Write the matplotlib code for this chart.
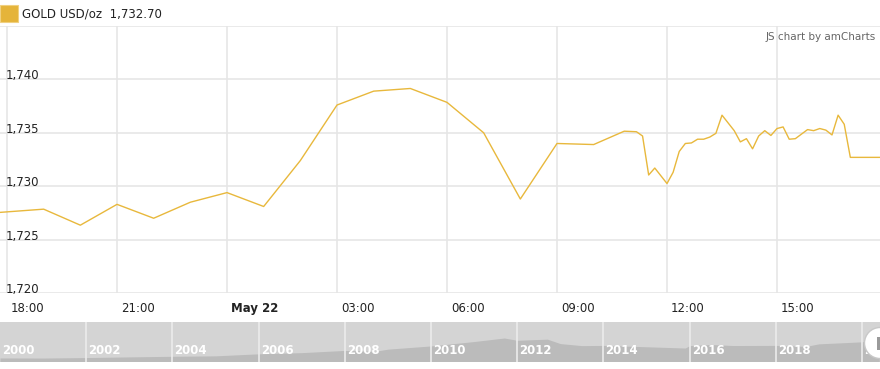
import numpy as np
import pandas as pd
import matplotlib
matplotlib.use('Agg')
import matplotlib.pyplot as plt
from matplotlib.patches import Circle, Rectangle
from matplotlib.transforms import IdentityTransform, ScaledTranslation

# intraday gold price (USD/oz)
times = ["2020-05-21 17:49", "2020-05-21 19:00", "2020-05-21 20:00", "2020-05-21 21:00",
         "2020-05-21 22:00", "2020-05-21 23:00", "2020-05-22 00:00", "2020-05-22 01:00",
         "2020-05-22 02:00", "2020-05-22 03:00", "2020-05-22 04:00", "2020-05-22 05:00",
         "2020-05-22 06:00", "2020-05-22 07:00", "2020-05-22 08:00", "2020-05-22 09:00",
         "2020-05-22 10:00", "2020-05-22 10:50", "2020-05-22 11:10", "2020-05-22 11:20",
         "2020-05-22 11:30", "2020-05-22 11:40", "2020-05-22 12:00", "2020-05-22 12:10",
         "2020-05-22 12:20", "2020-05-22 12:30", "2020-05-22 12:40", "2020-05-22 12:50",
         "2020-05-22 13:00", "2020-05-22 13:10", "2020-05-22 13:20", "2020-05-22 13:30",
         "2020-05-22 13:50", "2020-05-22 14:00", "2020-05-22 14:10", "2020-05-22 14:20",
         "2020-05-22 14:30", "2020-05-22 14:40", "2020-05-22 14:50", "2020-05-22 15:00",
         "2020-05-22 15:10", "2020-05-22 15:20", "2020-05-22 15:30", "2020-05-22 15:50",
         "2020-05-22 16:00", "2020-05-22 16:10", "2020-05-22 16:20", "2020-05-22 16:30",
         "2020-05-22 16:40", "2020-05-22 16:50", "2020-05-22 17:00", "2020-05-22 17:50"]
prices = [1727.55, 1727.85, 1726.35, 1728.30, 1727.00, 1728.50, 1729.40, 1728.10,
          1732.40, 1737.60, 1738.90, 1739.15, 1737.85, 1735.00, 1728.80, 1734.00,
          1733.90, 1735.15, 1735.10, 1734.70, 1731.05, 1731.70, 1730.25, 1731.30,
          1733.25, 1734.00, 1734.05, 1734.40, 1734.40, 1734.60, 1734.95, 1736.65,
          1735.20, 1734.15, 1734.45, 1733.50, 1734.70, 1735.20, 1734.75, 1735.40,
          1735.55, 1734.40, 1734.45, 1735.30, 1735.20, 1735.40, 1735.25, 1734.80,
          1736.65, 1735.80, 1732.70, 1732.70]

y_ticks = [1720, 1725, 1730, 1735, 1740]
y_labels = ["1,720", "1,725", "1,730", "1,735", "1,740"]
x_ticks = ["2020-05-21 18:00", "2020-05-21 21:00", "2020-05-22 00:00", "2020-05-22 03:00",
           "2020-05-22 06:00", "2020-05-22 09:00", "2020-05-22 12:00", "2020-05-22 15:00"]
x_labels = ["18:00", "21:00", "May 22", "03:00", "06:00", "09:00", "12:00", "15:00"]

# long-term history for the navigator strip
nav_years = [2000, 2001, 2002, 2003, 2004, 2005, 2006, 2007, 2008, 2008.7, 2009,
             2010, 2011, 2011.7, 2012, 2012.7, 2013, 2013.5, 2014, 2015, 2015.9,
             2016, 2016.5, 2017, 2018, 2018.7, 2019, 2019.7, 2020, 2020.4]
nav_prices = [280, 272, 310, 363, 409, 445, 604, 697, 872, 800, 972,
              1225, 1572, 1850, 1670, 1760, 1410, 1250, 1266, 1160, 1060,
              1250, 1340, 1257, 1268, 1190, 1390, 1500, 1550, 1720]
nav_ticks = [2000, 2002, 2004, 2006, 2008, 2010, 2012, 2014, 2016, 2018, 2020]

gold = '#e8b83c'
grid = '#e6e6e6'

fig = plt.figure(figsize=(8.8, 3.69), dpi=100)
W, H = 880, 369
plt.rcParams['font.family'] = 'DejaVu Sans'

# main plot: x 0..880, y 26..293 px
ax = fig.add_axes([0, 1 - 293 / H, 1, (293 - 26) / H])
t = pd.to_datetime(times)
ax.plot(t, prices, color=gold, lw=1.0)
left = pd.Timestamp("2020-05-21 18:00") - pd.Timedelta(hours=7 / 36.667)
ax.set_xlim(left, left + pd.Timedelta(hours=24))
ax.set_ylim(1720, 1745)

ax.set_yticks(y_ticks)
ax.set_xticks(pd.to_datetime(x_ticks))
ax.grid(True, color=grid, lw=1.2)
ax.tick_params(length=0, labelleft=False)
for s in ax.spines.values():
    s.set_visible(False)
ax.axhline(1745, color=grid, lw=1.2)

ax.set_xticklabels(x_labels, fontsize=8.5, color='#222')
offset = ScaledTranslation(4 / 100, -4 / 100, fig.dpi_scale_trans)
for lbl in ax.get_xticklabels():
    lbl.set_horizontalalignment('left')
    lbl.set_transform(lbl.get_transform() + offset)
    if lbl.get_text() == "May 22":
        lbl.set_fontweight('bold')

ylab_off = ScaledTranslation(0, -3 / 100, fig.dpi_scale_trans)
for v, s in zip(y_ticks, y_labels):
    ax.text(6 / W, v, s, transform=ax.get_yaxis_transform() + ylab_off,
            ha='left', va='bottom', fontsize=8.5, color='#222')

# header legend
fig.add_artist(Rectangle((0, H - 22), 18, 17, transform=IdentityTransform(),
                         facecolor='#e5b43a', edgecolor='#f0d080', lw=0.8))
fig.text(22 / W, 1 - 14 / H, "GOLD USD/oz  1,732.70", fontsize=8.5, va='center',
         ha='left', color='#222')
fig.text(876 / W, 1 - 37 / H, "JS chart by amCharts", fontsize=7.5, va='center',
         ha='right', color='#666')

# navigator strip
nav = fig.add_axes([0, 1 - 361.5 / H, 1, 40 / H])
nav.set_facecolor('#d4d4d4')
nav.fill_between(nav_years, nav_prices, 0, color='#bbbbbb', lw=0)
nav.set_xlim(2000, 2000 + 880 / 43.1)
nav.set_ylim(0, 3150)
nav.set_xticks([])
nav.set_yticks([])
for s in nav.spines.values():
    s.set_visible(False)
for yr in nav_ticks:
    if yr > 2000:
        nav.axvline(yr, color='#ececec', lw=1.2)
    nav.text(yr + 0.05, 0.12, str(yr), transform=nav.get_xaxis_transform(),
             color='white', fontsize=8.5, fontweight='bold', ha='left', va='bottom',
             clip_on=True)

# scrollbar grip on the right edge
fig.add_artist(Circle((880, H - 343), 15.5, transform=IdentityTransform(),
                      facecolor='white', edgecolor='#c8c8c8', lw=1, zorder=5))
fig.add_artist(Rectangle((877, H - 350), 3, 13, transform=IdentityTransform(),
                         facecolor='#9a9a9a', lw=0, zorder=6))

fig.savefig('out.png', dpi=100)
